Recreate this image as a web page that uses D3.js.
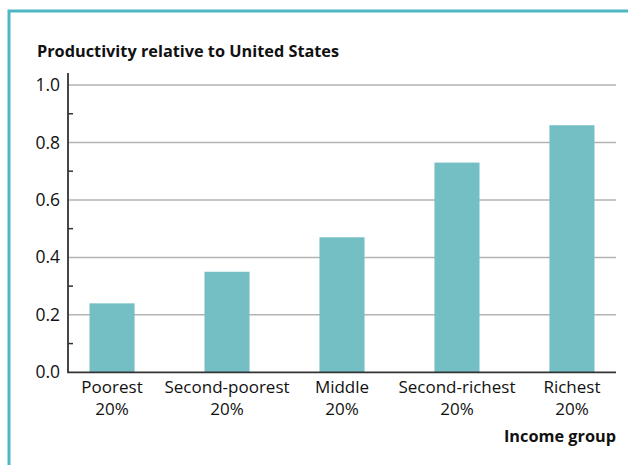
<!DOCTYPE html>
<html>
<head>
<meta charset="utf-8">
<script src="https://cdn.jsdelivr.net/npm/d3@7"></script>
<style>
  body { margin: 0; background: #fff; }
  svg { display: block; }
</style>
</head>
<body>
<div class="chart"></div>
<script>
// data
const groups = ["Poorest|20%", "Second-poorest|20%", "Middle|20%", "Second-richest|20%", "Richest|20%"];
const productivity = [0.24, 0.35, 0.47, 0.73, 0.86];
const majorTicks = [0.0, 0.2, 0.4, 0.6, 0.8, 1.0];
const minorTicks = [0.1, 0.3, 0.5, 0.7, 0.9];

const width = 628, height = 465;
const margin = ({top: 85, right: 12, bottom: 93, left: 68});
const font = "'Open Sans', 'Noto Sans', sans-serif";

const svg = d3.select(".chart").append("svg")
    .attr("width", width)
    .attr("height", height)
    .style("font-family", font);

// frame
svg.append("path")
    .attr("d", `M9,${height} V11 H${width}`)
    .attr("fill", "none")
    .attr("stroke", "#4db7c4")
    .attr("stroke-width", 3);

const scaleX = d3.scaleBand()
    .domain(groups)
    .range([margin.left, width - margin.right])
    .paddingInner(0.608)
    .paddingOuter(0.187);

const scaleY = d3.scaleLinear()
    .domain([0, 1])
    .range([height - margin.bottom + 0.3, margin.top]);

// gridlines
svg.append("g")
    .selectAll("line")
    .data(majorTicks.slice(1))
    .join("line")
    .attr("x1", margin.left)
    .attr("x2", width - margin.right)
    .attr("y1", d => scaleY(d))
    .attr("y2", d => scaleY(d))
    .attr("stroke", "#b3b3b3")
    .attr("stroke-width", 1.5);

// bars
svg.append("g")
    .selectAll("rect")
    .data(productivity)
    .join("rect")
    .attr("x", (d, i) => scaleX(groups[i]))
    .attr("y", d => scaleY(d))
    .attr("width", scaleX.bandwidth())
    .attr("height", d => scaleY(0) - scaleY(d))
    .attr("fill", "#74bfc4");

// y axis
const yAxis = svg.append("g")
    .attr("transform", `translate(${margin.left},0)`)
    .call(d3.axisLeft(scaleY).tickValues(majorTicks).tickFormat(d3.format(".1f")).tickSize(0).tickPadding(8))
    .call(g => g.select(".domain").remove());
yAxis.selectAll("text")
    .style("font-size", "17.5px")
    .style("font-family", font)
    .attr("fill", "#111");

// minor ticks, pointing inward
svg.append("g")
    .selectAll("line")
    .data(minorTicks)
    .join("line")
    .attr("x1", margin.left)
    .attr("x2", margin.left + 5)
    .attr("y1", d => scaleY(d))
    .attr("y2", d => scaleY(d))
    .attr("stroke", "#333")
    .attr("stroke-width", 1.5);

// axis lines
svg.append("path")
    .attr("d", `M${margin.left},73 V${scaleY(0)} H${width - margin.right}`)
    .attr("fill", "none")
    .attr("stroke", "#333")
    .attr("stroke-width", 1.8);

// x labels
const xAxis = svg.append("g")
    .attr("transform", `translate(0,${scaleY(0)})`)
    .call(d3.axisBottom(scaleX).tickSize(0).tickFormat(""))
    .call(g => g.select(".domain").remove());
xAxis.selectAll(".tick").each(function(d) {
  const parts = d.split("|");
  const t = d3.select(this).append("text")
      .attr("fill", "#111")
      .attr("text-anchor", "middle")
      .style("font-size", "17px")
      .style("font-family", font);
  parts.forEach((p, j) => t.append("tspan").attr("x", 0).attr("y", 21 + j * 22).text(p));
});

// titles
svg.append("text")
    .attr("x", 37)
    .attr("y", 57)
    .style("font-size", "16.3px")
    .style("font-weight", "bold")
    .attr("fill", "#111")
    .text("Productivity relative to United States");

svg.append("text")
    .attr("x", width - margin.right)
    .attr("y", 442)
    .attr("text-anchor", "end")
    .style("font-size", "16.3px")
    .style("font-weight", "bold")
    .attr("fill", "#111")
    .text("Income group");
</script>
</body>
</html>
